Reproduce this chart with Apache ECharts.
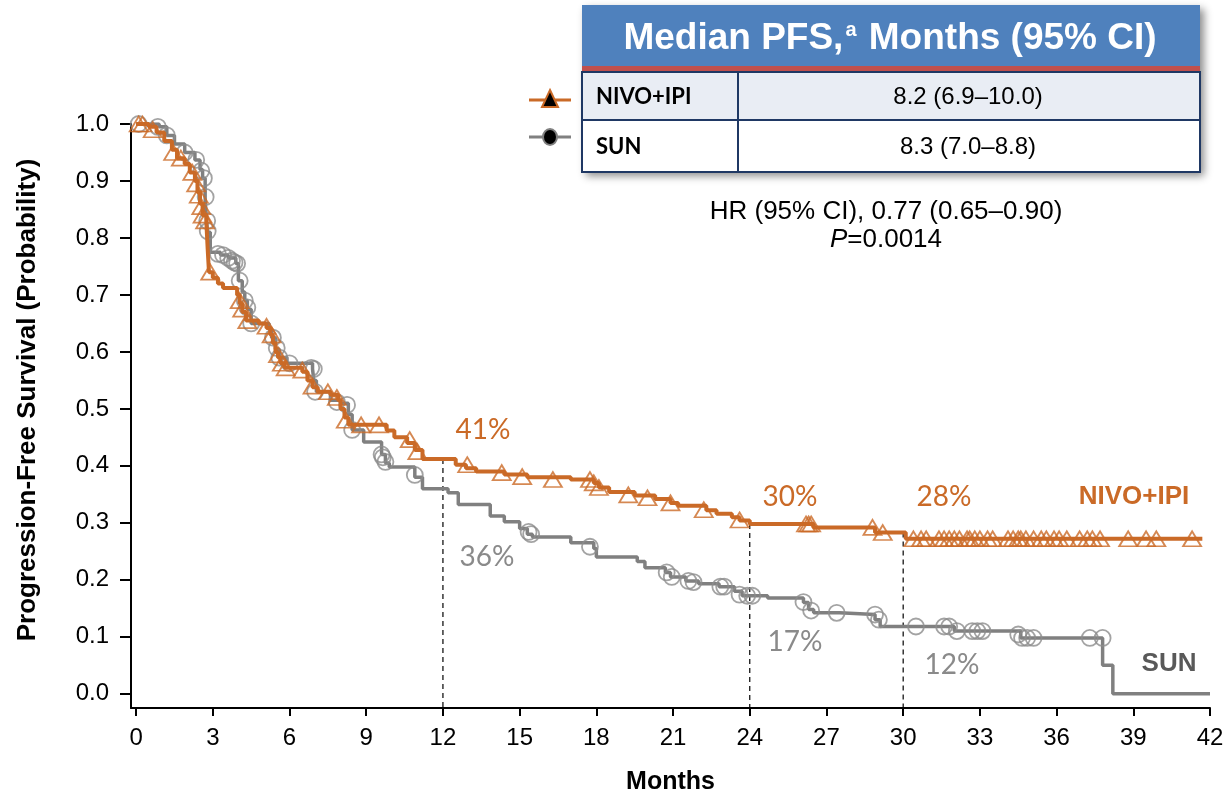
<!DOCTYPE html>
<html>
<head>
<meta charset="utf-8">
<script src="https://cdn.jsdelivr.net/npm/echarts@6/dist/echarts.min.js"></script>
<style>html,body{margin:0;padding:0;background:#fff}#c{width:1226px;height:797px}</style>
</head>
<body>
<div id="c"></div>
<script>
// ---------- DATA ----------
const xTicks = [0,3,6,9,12,15,18,21,24,27,30,33,36,39,42];
const yTicks = [0,0.1,0.2,0.3,0.4,0.5,0.6,0.7,0.8,0.9,1.0];

// NIVO+IPI Kaplan-Meier steps [month, survival after event]
const nivoSteps = [[0,1.0],[0.5,0.995],[0.8,0.985],[1.1,0.97],[1.4,0.955],[1.6,0.94],[1.9,0.93],[2.1,0.915],[2.3,0.9],[2.4,0.88],[2.5,0.86],[2.6,0.84],[2.75,0.825],[2.8,0.78],[2.85,0.74],[3.0,0.73],[3.2,0.72],[3.4,0.712],[3.95,0.70],[4.05,0.685],[4.15,0.67],[4.3,0.655],[4.8,0.65],[5.1,0.642],[5.25,0.63],[5.35,0.615],[5.45,0.6],[5.55,0.59],[5.65,0.58],[5.8,0.572],[6.5,0.565],[6.7,0.55],[6.9,0.538],[7.1,0.53],[7.6,0.525],[7.9,0.515],[8.0,0.5],[8.15,0.485],[8.3,0.472],[9.8,0.462],[10.1,0.45],[10.6,0.44],[10.9,0.428],[11.2,0.412],[12.5,0.402],[12.9,0.396],[13.3,0.39],[14.4,0.385],[15.3,0.38],[17.0,0.376],[17.9,0.37],[18.1,0.362],[18.5,0.354],[19.5,0.348],[20.3,0.342],[20.9,0.335],[21.2,0.33],[22.3,0.322],[22.7,0.316],[23.3,0.31],[23.6,0.304],[24.0,0.298],[26.5,0.292],[28.9,0.283],[30.1,0.272],[41.7,0.272]];
// NIVO+IPI censored observations
const nivoCensor = [[0.1,1.0],[0.25,1.0],[0.65,0.99],[1.45,0.95],[1.75,0.94],[2.2,0.915],[2.35,0.895],[2.45,0.875],[2.55,0.855],[2.6,0.84],[2.7,0.83],[2.9,0.74],[4.05,0.69],[4.15,0.675],[4.35,0.655],[5.1,0.645],[5.3,0.63],[5.55,0.595],[5.7,0.58],[5.85,0.572],[6.5,0.568],[6.9,0.54],[7.5,0.53],[7.85,0.52],[8.2,0.48],[8.8,0.472],[9.5,0.472],[10.7,0.446],[11.0,0.425],[12.95,0.402],[14.3,0.388],[15.1,0.381],[16.3,0.376],[17.75,0.376],[17.9,0.37],[18.1,0.362],[19.25,0.349],[20.0,0.344],[20.9,0.335],[22.2,0.323],[23.6,0.305],[26.2,0.298],[26.3,0.298],[26.4,0.298],[28.8,0.292],[29.2,0.283],
 [30.4,0.272],[30.7,0.272],[30.9,0.272],[31.4,0.272],[31.6,0.272],[31.8,0.272],[32.0,0.272],[32.2,0.272],[32.5,0.272],[32.6,0.272],[32.8,0.272],[33.0,0.272],[33.3,0.272],[33.5,0.272],[34.1,0.272],[34.3,0.272],[34.5,0.272],[34.6,0.272],[34.8,0.272],[35.1,0.272],[35.4,0.272],[35.6,0.272],[35.9,0.272],[36.1,0.272],[36.4,0.272],[36.9,0.272],[37.2,0.272],[37.4,0.272],[37.7,0.272],[38.8,0.272],[39.5,0.272],[39.9,0.272],[41.3,0.272]];

// SUN Kaplan-Meier steps
const sunSteps = [[0,1.0],[0.9,0.995],[1.2,0.98],[1.5,0.965],[1.9,0.95],[2.3,0.937],[2.5,0.92],[2.6,0.905],[2.7,0.87],[2.75,0.83],[2.8,0.81],[2.9,0.775],[3.3,0.77],[3.6,0.765],[3.9,0.755],[4.0,0.725],[4.15,0.705],[4.25,0.69],[4.35,0.675],[4.5,0.65],[5.2,0.64],[5.3,0.625],[5.45,0.605],[5.6,0.59],[5.9,0.58],[6.9,0.57],[6.95,0.55],[7.05,0.53],[7.6,0.515],[8.0,0.51],[8.3,0.49],[8.45,0.463],[8.9,0.442],[9.6,0.42],[9.75,0.405],[9.9,0.398],[10.9,0.38],[11.2,0.36],[12.2,0.353],[12.6,0.332],[13.85,0.312],[14.4,0.302],[15.0,0.29],[15.3,0.28],[15.5,0.275],[17.0,0.265],[17.9,0.255],[18.0,0.24],[19.6,0.232],[19.9,0.221],[20.7,0.213],[20.9,0.205],[21.5,0.198],[22.0,0.193],[22.8,0.188],[23.4,0.18],[23.7,0.172],[24.7,0.168],[26.1,0.16],[26.3,0.148],[26.5,0.142],[27.5,0.139],[28.9,0.13],[29.1,0.118],[32.0,0.11],[34.6,0.098],[37.8,0.05],[38.2,0.0],[42,0.0]];
// SUN censored observations
const sunCensor = [[0.1,1.0],[0.85,0.995],[1.2,0.98],[1.9,0.95],[2.35,0.937],[2.55,0.918],[2.65,0.905],[2.72,0.872],[2.78,0.83],[2.8,0.812],[3.2,0.772],[3.4,0.77],[3.6,0.765],[3.75,0.76],[3.85,0.757],[3.95,0.755],[4.05,0.725],[4.25,0.69],[4.35,0.678],[4.5,0.65],[5.35,0.625],[5.5,0.607],[5.6,0.59],[6.0,0.58],[6.85,0.572],[6.95,0.57],[7.0,0.53],[7.85,0.512],[8.25,0.507],[8.45,0.463],[9.6,0.42],[9.65,0.415],[9.75,0.407],[10.9,0.384],[15.35,0.284],[15.45,0.28],[17.75,0.258],[20.75,0.213],[20.95,0.205],[21.6,0.198],[21.8,0.196],[22.85,0.188],[23.0,0.188],[23.6,0.174],[23.9,0.172],[24.1,0.172],[26.1,0.161],[26.4,0.146],[27.4,0.142],[28.9,0.139],[29.05,0.13],[30.5,0.118],[31.6,0.118],[31.8,0.118],[32.1,0.11],[32.7,0.11],[32.9,0.11],[33.1,0.11],[34.5,0.104],[34.65,0.098],[34.85,0.098],[35.1,0.098],[37.3,0.098],[37.8,0.098]];

// Landmark timepoints (months) and NIVO+IPI value where dashed guide starts
const landmarkMonths = [12, 24, 30];
const landmarkTop = [0.412, 0.298, 0.283];
const nivoLandmarkLabels = ['41%', '30%', '28%'];
const sunLandmarkLabels = ['36%', '17%', '12%'];
const tableRows = [['NIVO+IPI', '8.2 (6.9\u201310.0)'], ['SUN', '8.3 (7.0\u20138.8)']];

// ---------- STYLE ----------
const ORANGE = '#CA6A27';
const GRAY = '#808080';
const ARIAL = '"Liberation Sans", Arial, sans-serif';
const CAL = 'Lato, "Open Sans", sans-serif';

const chart = echarts.init(document.getElementById('c'), null, {renderer: 'canvas'});

const guideSeries = landmarkMonths.map((m, i) => ({
  type: 'line', data: [[m, landmarkTop[i]], [m, -0.025]], showSymbol: false, silent: true,
  lineStyle: {color: '#000', width: 1.2, type: [5, 4]}, z: 1
}));

function pctText(x, y, t, color) {
  return {type: 'text', x: x, y: y, style: {text: t, font: '28px ' + CAL, fill: color, align: 'center', verticalAlign: 'middle'}};
}

const graphics = [
  // table
  {type: 'rect', shape: {x: 582, y: 5, width: 618, height: 167}, style: {fill: '#fff', shadowBlur: 8, shadowColor: 'rgba(0,0,0,0.45)', shadowOffsetX: 4, shadowOffsetY: 4}},
  {type: 'rect', shape: {x: 582, y: 5, width: 618, height: 62}, style: {fill: '#4F81BD'}},
  {type: 'rect', shape: {x: 582, y: 66, width: 618, height: 6}, style: {fill: '#C0504D'}},
  {type: 'rect', shape: {x: 582, y: 72, width: 618, height: 48}, style: {fill: '#E9EDF4', stroke: '#1F3864', lineWidth: 2}},
  {type: 'rect', shape: {x: 582, y: 120, width: 618, height: 52}, style: {fill: '#fff', stroke: '#1F3864', lineWidth: 2}},
  {type: 'line', shape: {x1: 738, y1: 72, x2: 738, y2: 172}, style: {stroke: '#1F3864', lineWidth: 2}},
  {type: 'text', x: 890, y: 39, style: {
    text: '{m|Median PFS,}{s|a}{m| Months (95% CI)}', align: 'center', verticalAlign: 'middle',
    rich: {m: {font: 'bold 37px ' + ARIAL, fill: '#fff'}, s: {font: 'bold 20px ' + ARIAL, fill: '#fff', verticalAlign: 'top', padding: [0, 2, 14, 2]}}
  }},
  {type: 'text', x: 596, y: 97, style: {text: tableRows[0][0], font: 'bold 22px ' + CAL, fill: '#000', align: 'left', verticalAlign: 'middle'}},
  {type: 'text', x: 596, y: 147, style: {text: tableRows[1][0], font: 'bold 22px ' + CAL, fill: '#000', align: 'left', verticalAlign: 'middle'}},
  {type: 'text', x: 968, y: 97, style: {text: tableRows[0][1], font: '24px ' + ARIAL, fill: '#000', align: 'center', verticalAlign: 'middle'}},
  {type: 'text', x: 968, y: 147, style: {text: tableRows[1][1], font: '24px ' + ARIAL, fill: '#000', align: 'center', verticalAlign: 'middle'}},
  // legend icons
  {type: 'line', shape: {x1: 529, y1: 100, x2: 571, y2: 100}, style: {stroke: ORANGE, lineWidth: 3}},
  {type: 'polygon', shape: {points: [[550, 90], [558, 107], [542, 107]]}, style: {fill: '#000', stroke: ORANGE, lineWidth: 2}},
  {type: 'line', shape: {x1: 529, y1: 137, x2: 571, y2: 137}, style: {stroke: GRAY, lineWidth: 3}},
  {type: 'ellipse', shape: {cx: 550, cy: 137, rx: 7, ry: 8}, style: {fill: '#000', stroke: GRAY, lineWidth: 2}},
  // HR text
  {type: 'text', x: 886, y: 212, style: {text: 'HR (95% CI), 0.77 (0.65\u20130.90)', font: '26px ' + ARIAL, fill: '#000', align: 'center', verticalAlign: 'middle'}},
  {type: 'text', x: 886, y: 240, style: {
    text: '{i|P}{n|=0.0014}', align: 'center', verticalAlign: 'middle',
    rich: {i: {font: 'italic 26px ' + ARIAL, fill: '#000'}, n: {font: '26px ' + ARIAL, fill: '#000'}}
  }},
  // y axis title
  {type: 'text', x: 28, y: 400, rotation: Math.PI / 2, style: {text: 'Progression-Free Survival (Probability)', font: 'bold 26px ' + ARIAL, fill: '#000', align: 'center', verticalAlign: 'middle'}},
  // landmark labels
  pctText(483, 430, nivoLandmarkLabels[0], ORANGE),
  pctText(790, 497, nivoLandmarkLabels[1], ORANGE),
  pctText(944, 497, nivoLandmarkLabels[2], ORANGE),
  pctText(487, 557, sunLandmarkLabels[0], '#8A8A8A'),
  pctText(795, 642, sunLandmarkLabels[1], '#8A8A8A'),
  pctText(952, 665, sunLandmarkLabels[2], '#8A8A8A'),
  {type: 'text', x: 1134, y: 497, style: {text: 'NIVO+IPI', font: 'bold 26px ' + ARIAL, fill: ORANGE, align: 'center', verticalAlign: 'middle'}},
  {type: 'text', x: 1169, y: 664, style: {text: 'SUN', font: 'bold 26px ' + ARIAL, fill: '#595959', align: 'center', verticalAlign: 'middle'}}
];

const option = {
  animation: false,
  backgroundColor: '#fff',
  grid: {left: 131, right: 16, top: 124, bottom: 89, containLabel: false, outerBoundsMode: 'none'},
  xAxis: {
    type: 'value', min: -0.2, max: 42,
    name: 'Months', nameLocation: 'middle', nameGap: 62,
    nameTextStyle: {fontWeight: 'bold', fontSize: 25, fontFamily: ARIAL, color: '#000'},
    axisLine: {show: true, onZero: false, lineStyle: {color: '#000', width: 2}},
    axisTick: {show: true, customValues: xTicks, length: 8, lineStyle: {color: '#000', width: 2}},
    axisLabel: {customValues: xTicks, fontSize: 24, fontFamily: ARIAL, color: '#000', margin: 18},
    splitLine: {show: false}
  },
  yAxis: {
    type: 'value', min: -0.025, max: 1.0,
    axisLine: {show: true, onZero: false, lineStyle: {color: '#000', width: 2}},
    axisTick: {show: true, customValues: yTicks, length: 11, lineStyle: {color: '#000', width: 2}},
    axisLabel: {customValues: yTicks, formatter: v => v.toFixed(1), fontSize: 24, fontFamily: ARIAL, color: '#000', margin: 22},
    splitLine: {show: false}
  },
  series: [
    ...guideSeries,
    {type: 'line', name: 'SUN', data: sunSteps, step: 'end', showSymbol: false, silent: true,
     lineStyle: {color: GRAY, width: 3.5}, z: 2},
    {type: 'scatter', name: 'SUN censored', data: sunCensor, symbol: 'circle', symbolSize: 16, silent: true,
     itemStyle: {color: 'rgba(255,255,255,0)', borderColor: '#8C8C8C', borderWidth: 1.8}, z: 3},
    {type: 'line', name: 'NIVO+IPI', data: nivoSteps, step: 'end', showSymbol: false, silent: true,
     lineStyle: {color: ORANGE, width: 4}, z: 4},
    {type: 'scatter', name: 'NIVO+IPI censored', data: nivoCensor, symbol: 'triangle', symbolSize: [18, 15], silent: true,
     itemStyle: {color: 'rgba(255,255,255,0)', borderColor: ORANGE, borderWidth: 1.8}, z: 5}
  ],
  graphic: graphics
};
chart.setOption(option);
</script>
</body>
</html>
